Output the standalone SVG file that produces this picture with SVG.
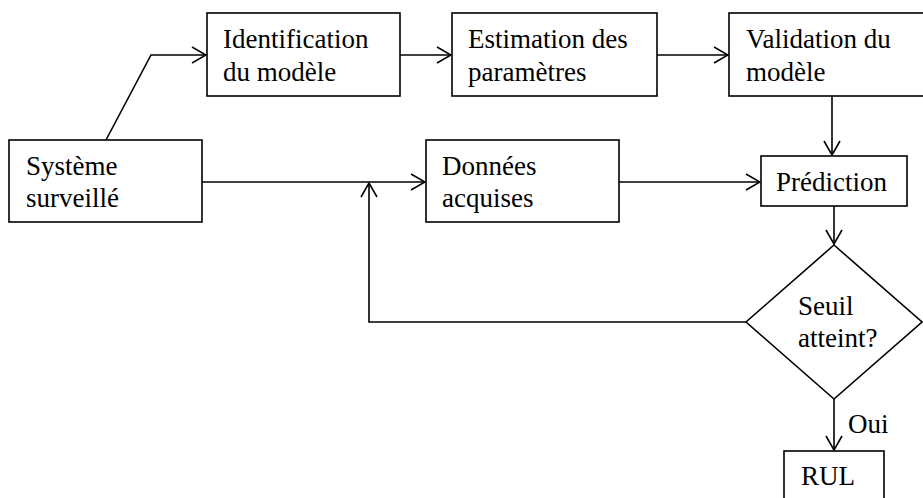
<svg xmlns="http://www.w3.org/2000/svg" width="923" height="498" viewBox="0 0 923 498">
<defs>
<style>
.box{fill:#fff;stroke:#000;stroke-width:1.6}
.ln{fill:none;stroke:#000;stroke-width:1.6}
.t{font-family:"Liberation Serif","Times New Roman",serif;font-size:27px;fill:#000}
</style>
<marker id="arr" viewBox="0 0 16 18" refX="15" refY="9" markerWidth="16" markerHeight="18" markerUnits="userSpaceOnUse" orient="auto">
<path d="M1,1 L15,9 L1,17" fill="none" stroke="#000" stroke-width="1.6"/>
</marker>
</defs>
<g id="connectors">
<path class="ln" d="M106,140 L151,55 L206,55" marker-end="url(#arr)"/>
<path class="ln" d="M400,55 L451,55" marker-end="url(#arr)"/>
<path class="ln" d="M657,55 L728,55" marker-end="url(#arr)"/>
<path class="ln" d="M832,96 L832,155" marker-end="url(#arr)"/>
<path class="ln" d="M202,182 L425,182" marker-end="url(#arr)"/>
<path class="ln" d="M619,182 L760,182" marker-end="url(#arr)"/>
<path class="ln" d="M834,206 L834,244" marker-end="url(#arr)"/>
<path class="ln" d="M746,322 L369,322 L369,183" marker-end="url(#arr)"/>
<path class="ln" d="M834,399 L834,450" marker-end="url(#arr)"/>
<text class="t" x="848" y="433">Oui</text>
</g>
<g id="identification">
<rect class="box" x="207" y="13" width="193" height="83"/>
<text class="t" x="223" y="48">Identification</text>
<text class="t" x="223" y="81">du modèle</text>
</g>
<g id="estimation">
<rect class="box" x="452" y="13" width="205" height="83"/>
<text class="t" x="468" y="48">Estimation des</text>
<text class="t" x="468" y="81">paramètres</text>
</g>
<g id="validation">
<rect class="box" x="729" y="13" width="200" height="83"/>
<text class="t" x="746" y="48">Validation du</text>
<text class="t" x="746" y="81">modèle</text>
</g>
<g id="systeme">
<rect class="box" x="9" y="140" width="193" height="82"/>
<text class="t" x="26" y="175">Système</text>
<text class="t" x="26" y="207">surveillé</text>
</g>
<g id="donnees">
<rect class="box" x="426" y="140" width="193" height="82"/>
<text class="t" x="442" y="175">Données</text>
<text class="t" x="442" y="207">acquises</text>
</g>
<g id="prediction">
<rect class="box" x="761" y="156" width="146" height="50"/>
<text class="t" x="776" y="191">Prédiction</text>
</g>
<g id="seuil">
<polygon class="box" points="834,245 922,322 834,399 746,322"/>
<text class="t" x="798" y="315">Seuil</text>
<text class="t" x="798" y="347">atteint?</text>
</g>
<g id="rul">
<rect class="box" x="784" y="451" width="100" height="60"/>
<text class="t" x="801" y="485">RUL</text>
</g>
</svg>
